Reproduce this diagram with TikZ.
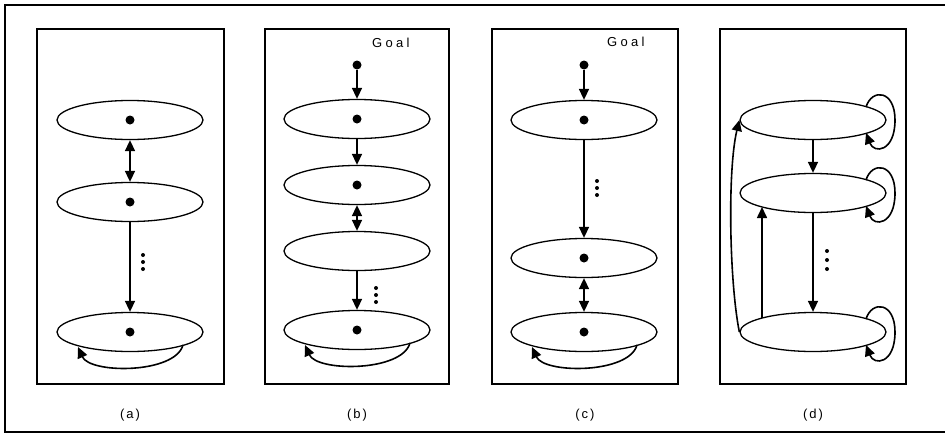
\documentclass[tikz,border=0pt]{standalone}
\usepackage{fontspec}
\setmainfont{Liberation Sans}
\newfontfamily\lblfont[LetterSpace=25]{Liberation Sans}
\newfontfamily\capfont[LetterSpace=15]{Liberation Sans}
\usetikzlibrary{shapes.geometric,arrows.meta,calc}
\begin{document}
\begin{tikzpicture}[x=1pt,y=-1pt,
  st/.style={ellipse, draw, line width=1.3pt, minimum width=146pt, minimum height=39pt, inner sep=0pt},
  dotn/.style={circle, fill, inner sep=0pt, minimum size=9pt},
  arr/.style={line width=1.6pt, -{Triangle[length=11pt,width=10pt]}},
  darr/.style={line width=1.6pt, {Triangle[length=11pt,width=10pt]}-{Triangle[length=11pt,width=10pt]}},
  panel/.style={line width=1.8pt},
  lbl/.style={font=\capfont\fontsize{13}{15}\selectfont, inner sep=0pt},
  goal/.style={font=\lblfont\fontsize{13}{15}\selectfont, inner sep=0pt, anchor=west}]
\useasboundingbox (0,0) rectangle (945,434);
% outer frame
\draw[line width=1.5pt] (945,5) -- (5,5) -- (5,432) -- (945,432);
% panels
\draw[panel] (37,29) rectangle (224,384);
\draw[panel] (265,29) rectangle (449,384);
\draw[panel] (492,29) rectangle (678,384);
\draw[panel] (720,29) rectangle (906,384);
% ---------- (a)
\node[st] (a1) at (130,120) {};
\node[st] (a2) at (130,202) {};
\node[st] (a3) at (130,332) {};
\node[dotn] (a1d) at (a1.center) {};
\node[dotn] (a2d) at (a2.center) {};
\node[dotn] (a3d) at (a3.center) {};
\draw[darr] (a1) -- (a2);
\draw[arr] (a2) -- (a3);
\foreach \y in {255,262,269} \fill (143,\y) circle (2);
\draw[arr] ($(a3.center)+(53,13)$) .. controls ($(a3.center)+(45,42)$) and ($(a3.center)+(-40,42)$) .. ($(a3.center)+(-52,15)$);
\node[lbl] (la) at (130,415) {(a)};
% ---------- (b)
\node[goal] (bgt) at (372,43) {Goal};
\node[dotn] (bg) at (357,65) {};
\node[st] (b1) at (357,119) {};
\node[st] (b2) at (357,185) {};
\node[st] (b3) at (357,251) {};
\node[st] (b4) at (357,330) {};
\node[dotn] (b1d) at (b1.center) {};
\node[dotn] (b2d) at (b2.center) {};
\node[dotn] (b4d) at (b4.center) {};
\draw[arr] (bg) -- (b1);
\draw[arr] (b1) -- (b2);
\draw[darr] (b2) -- (b3);
\draw[arr] (b3) -- (b4);
\foreach \y in {288,295,302} \fill (376,\y) circle (2);
\draw[arr] ($(b4.center)+(53,13)$) .. controls ($(b4.center)+(45,42)$) and ($(b4.center)+(-40,42)$) .. ($(b4.center)+(-52,15)$);
\node[lbl] (lb) at (357,415) {(b)};
% ---------- (c)
\node[goal] (cgt) at (607,42) {Goal};
\node[dotn] (cg) at (584,65) {};
\node[st] (c1) at (584,120) {};
\node[st] (c2) at (584,258) {};
\node[st] (c3) at (584,332) {};
\node[dotn] (c1d) at (c1.center) {};
\node[dotn] (c2d) at (c2.center) {};
\node[dotn] (c3d) at (c3.center) {};
\draw[arr] (cg) -- (c1);
\draw[arr] (c1) -- (c2);
\draw[darr] (c2) -- (c3);
\foreach \y in {181,188,195} \fill (597,\y) circle (2);
\draw[arr] ($(c3.center)+(53,13)$) .. controls ($(c3.center)+(45,42)$) and ($(c3.center)+(-40,42)$) .. ($(c3.center)+(-52,15)$);
\node[lbl] (lc) at (585,415) {(c)};
% ---------- (d)
\node[st] (d1) at (813,120) {};
\node[st] (d2) at (813,193) {};
\node[st] (d3) at (813,332) {};
\draw[arr] (d1) -- (d2);
\draw[arr] (d2) -- (d3);
\foreach \y in {251,260,269} \fill (827,\y) circle (2);
\coordinate (d3up) at ($(d3.center)+(-51,-14)$);
\coordinate (d2dn) at ($(d2.center)+(-51,14)$);
\draw[arr] (d3up) -- (d2dn);
\draw[arr] (d3.west) .. controls ($(d3.west)+(-10,-50)$) and ($(d1.west)+(-12,50)$) .. (d1.west);
\foreach \n in {d1,d2,d3} {
  \draw[arr] ($(\n.center)+(53,-13)$) .. controls ($(\n.center)+(59,-32)$) and ($(\n.center)+(82,-30)$) .. ($(\n.center)+(82,0)$) .. controls ($(\n.center)+(82,32)$) and ($(\n.center)+(61,34)$) .. ($(\n.center)+(53,13)$);
}
\node[lbl] (ld) at (813,415) {(d)};
\end{tikzpicture}
\end{document}
